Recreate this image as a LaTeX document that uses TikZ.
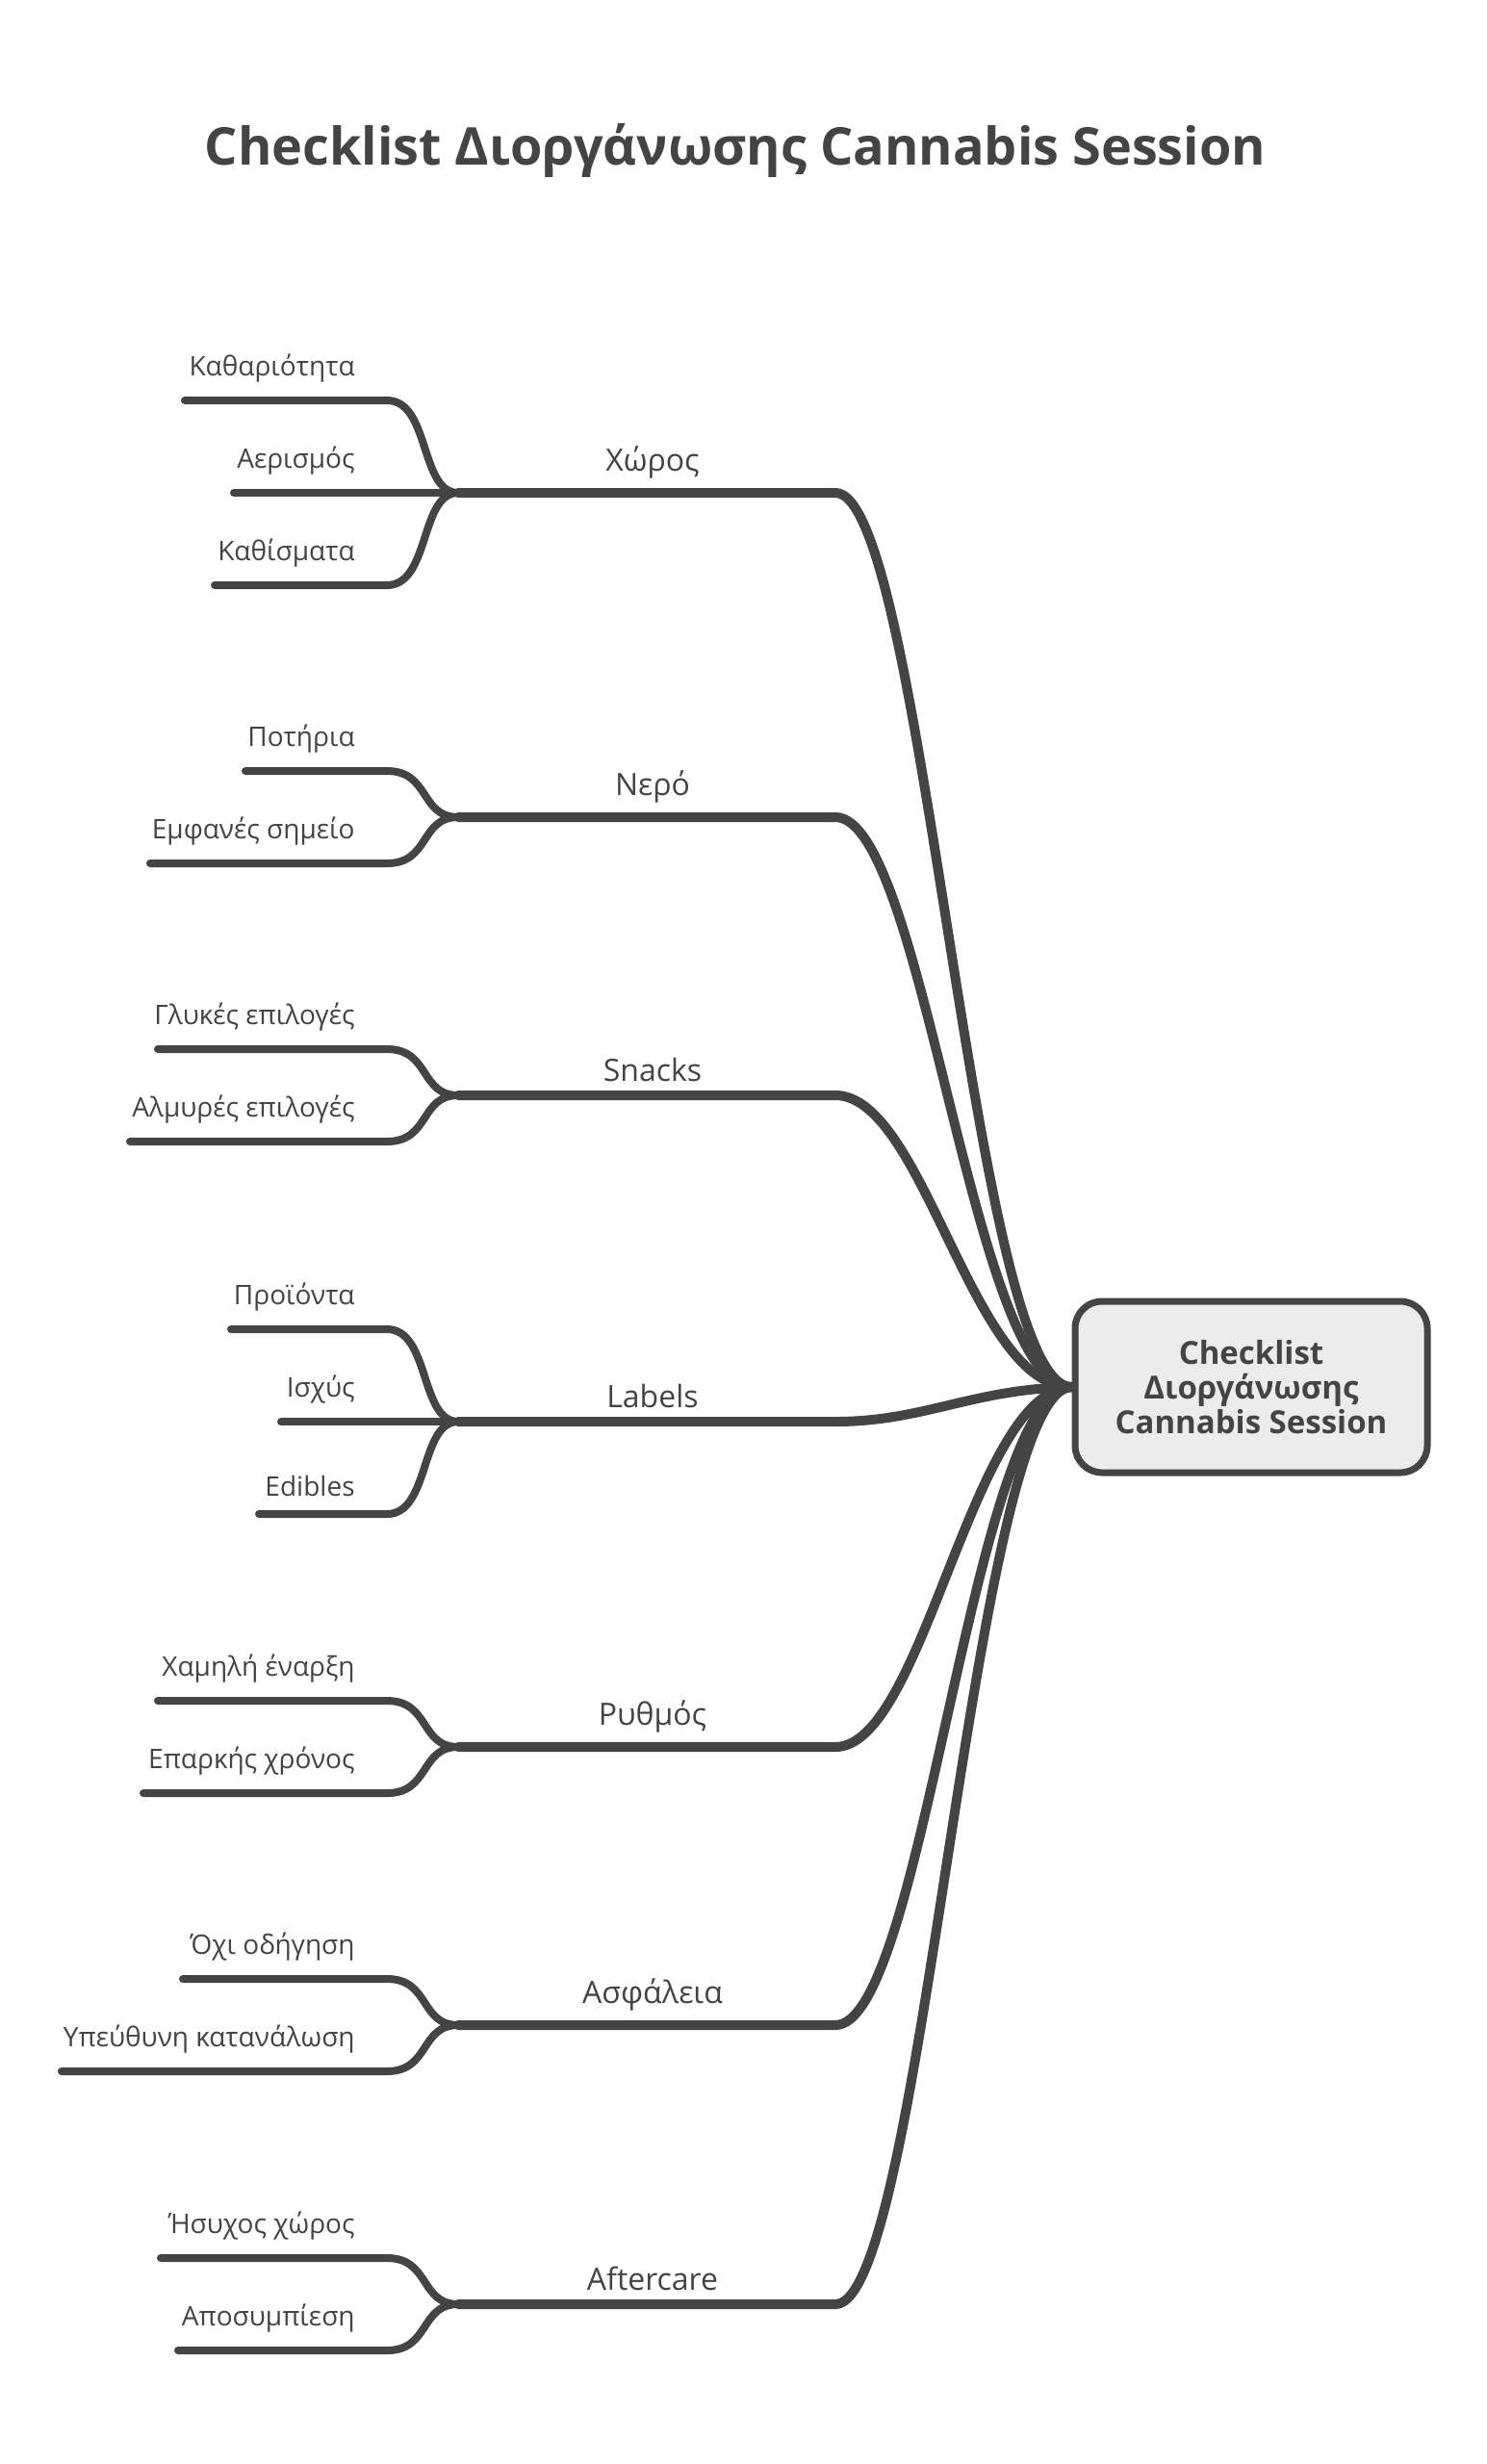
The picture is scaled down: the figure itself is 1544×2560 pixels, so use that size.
\documentclass[tikz,border=0pt]{standalone}
\usepackage{fontspec}
\setmainfont{Open Sans}
\usetikzlibrary{positioning}
\definecolor{ink}{HTML}{444444}

\tikzset{
  leaf/.style = {anchor=south east, inner sep=2pt, text=ink, font=\fontsize{14}{16}\selectfont},
  topic/.style = {anchor=south, inner sep=2pt, text=ink, font=\fontsize{16}{18}\selectfont},
  twig/.style = {draw=ink, line width=4pt, line cap=round},
  bough/.style = {draw=ink, line width=5pt, line cap=round},
  root/.style = {draw=ink, line width=3.5pt, rounded corners=14pt, fill=gray!15,
                 minimum width=183pt, minimum height=89pt, align=center, text=ink,
                 inner sep=2pt, font=\bfseries\fontsize{16.5}{18}\selectfont}
}

\begin{document}
\begin{tikzpicture}[x=0.5pt,y=-0.5pt]
  \useasboundingbox (0,0) rectangle (1544,2560);
  \node[text=ink, font=\bfseries\fontsize{27}{30}\selectfont] (title) at (764,156)
    {Checklist Διοργάνωσης Cannabis Session};
  \node[root] (center) at (1300,1441) {Checklist\\Διοργάνωσης\\Cannabis Session};

  % branches: name / y / label
  \foreach \n/\y/\t in {b1/512/Χώρος, b2/849/Νερό, b3/1138/Snacks, b4/1477/Labels,
                        b5/1815/Ρυθμός, b6/2104/Ασφάλεια, b7/2394/Aftercare} {
    \coordinate (\n hub) at (476,\y);
    \coordinate (\n end) at (868,\y);
    \node[topic] (\n) at (678,\y-10) {\t};
    \draw[bough] (\n hub) -- (\n end)
      .. controls (960,\y) and (1010,1443) .. (center.west);
  }

  % leaves: branch / index / y offset / left x / text
  \foreach \b/\i/\d/\x/\t in {
      b1/1/-96/192/Καθαριότητα, b1/2/0/243/Αερισμός, b1/3/96/223/Καθίσματα,
      b2/1/-48/255/Ποτήρια, b2/2/48/156/Εμφανές σημείο,
      b3/1/-48/164/Γλυκές επιλογές, b3/2/48/135/Αλμυρές επιλογές,
      b4/1/-96/240/Προϊόντα, b4/2/0/292/Ισχύς, b4/3/96/269/Edibles,
      b5/1/-48/164/Χαμηλή έναρξη, b5/2/48/149/Επαρκής χρόνος,
      b6/1/-48/190/Όχι οδήγηση, b6/2/48/64/Υπεύθυνη κατανάλωση,
      b7/1/-48/167/Ήσυχος χώρος, b7/2/48/185/Αποσυμπίεση} {
    \path (\b hub) ++(\x-476,\d) coordinate (\b l\i);
    \path (\b hub) ++(402-476,\d) coordinate (\b k\i);
    \path (\b hub) ++(373-476,\d-14) node[leaf] (\b t\i) {\t};
    \draw[twig] (\b l\i) -- (\b k\i)
      .. controls +(45,0) and +(-40,0) .. (\b hub);
  }
\end{tikzpicture}
\end{document}
